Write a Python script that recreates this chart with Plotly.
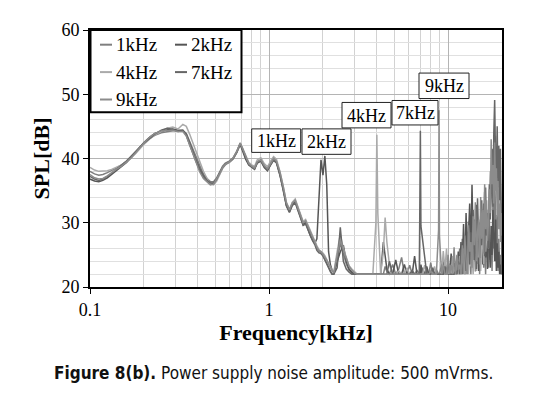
import plotly.graph_objects as go

freq_khz = [
    0.100, 0.106, 0.112, 0.118, 0.125, 0.132, 0.140, 0.150, 0.160, 0.170,
    0.180, 0.190, 0.200, 0.215, 0.230, 0.250, 0.270, 0.290, 0.310, 0.330,
    0.345, 0.360, 0.375, 0.390, 0.410, 0.430, 0.450, 0.470, 0.490, 0.510,
    0.530, 0.550, 0.570, 0.600, 0.630, 0.660, 0.690, 0.710, 0.740, 0.770,
    0.800, 0.830, 0.860, 0.900, 0.940, 0.980,
    1.02, 1.06, 1.10, 1.15, 1.20, 1.25, 1.30, 1.35, 1.40, 1.45,
    1.50, 1.55, 1.60, 1.65, 1.70, 1.75, 1.80, 1.85, 1.90, 1.95,
    2.00, 2.05, 2.10, 2.15, 2.20, 2.25, 2.30, 2.40, 2.50, 2.60,
    2.70, 2.80, 2.90, 3.00, 3.10,
    3.2, 3.4, 3.6, 3.8, 3.95, 4.0, 4.05, 4.2, 4.35, 4.45,
    4.55, 4.7, 4.9, 5.1, 5.3, 5.5, 5.7, 5.9, 6.1, 6.3,
    6.5, 6.7, 6.9, 6.95, 7.0, 7.05, 7.2, 7.4, 7.6, 7.8,
    8.0, 8.2, 8.4, 8.6, 8.85, 8.9, 8.95, 9.2, 9.4, 9.6,
    9.8, 10.0, 10.2, 10.4, 10.6, 10.8,
    11.0, 11.2, 11.4, 11.6, 11.8, 12.0, 12.2, 12.4, 12.6, 12.8,
    13.0, 13.2, 13.4, 13.6, 13.8, 14.0, 14.2, 14.4, 14.6, 14.8,
    15.0, 15.2, 15.4, 15.6, 15.8, 16.0, 16.2, 16.4, 16.6, 16.8,
    17.0, 17.2, 17.4, 17.6, 17.8, 18.0, 18.2, 18.4, 18.6, 18.8,
    19.0, 19.2, 19.4, 19.6, 19.8, 20.0,
]

spl_1k = [
    38.0, 37.6, 37.4, 37.5, 37.8, 38.1, 38.5, 39.0, 39.6, 40.4,
    41.1, 41.8, 42.4, 43.1, 43.6, 44.0, 44.2, 44.3, 44.3, 44.4,
    43.9, 42.7, 41.4, 40.2, 38.8, 37.6, 36.9, 36.4, 36.4, 37.0,
    37.9, 38.8, 39.3, 39.6, 40.1, 41.1, 42.4, 41.5, 40.1, 39.2,
    38.8, 38.5, 39.5, 39.8, 38.8, 38.3,
    39.3, 40.1, 39.5, 37.6, 35.3, 32.8, 31.8, 33.1, 33.5, 32.3,
    31.1, 30.0, 30.3, 29.3, 28.4, 27.7, 27.1, 26.1, 25.6, 25.3,
    24.8, 24.2, 23.6, 23.0, 22.5, 22.0, 22.0, 24.0, 26.8, 25.2,
    23.6, 22.6, 22.2, 22.0, 22.0,
    22, 22, 22, 22, 22, 22, 22, 22, 22, 23.2,
    22.4, 22, 23.5, 22, 22.8, 24.6, 22, 22, 23.4, 22,
    22, 22.6, 22, 22, 22, 22, 23, 22, 22.5, 22,
    23.8, 22, 22, 22.7, 22, 22, 22, 23.5, 22, 24.2,
    22, 22.8, 23.6, 22, 24.5, 23.0,
    22, 24.5, 22, 26.0, 22.5, 27.5, 23, 25.8, 22, 28.6,
    23.5, 26.2, 22, 29.5, 24, 27.8, 22.4, 30.2, 23.6, 26.5,
    22, 28.4, 24.8, 31.0, 23, 27.2, 22, 29.6, 25.4, 23,
    30.8, 24.2, 27.0, 22.5, 33.5, 26.0, 38.0, 29.5, 24.0, 31.2,
    22.5, 27.5, 23, 25.0, 22, 24.0,
]

spl_2k = [
    36.8, 36.5, 36.4, 36.6, 37.0, 37.5, 38.1, 38.7, 39.4, 40.2,
    41.0, 41.8, 42.5, 43.3, 43.9, 44.2, 44.5, 44.6, 44.4, 44.4,
    43.6, 42.2, 40.8, 39.6, 38.2, 37.1, 36.5, 36.1, 36.2, 36.8,
    37.6, 38.5, 39.1, 39.4, 39.9, 40.9, 42.2, 41.3, 39.9, 39.0,
    38.6, 38.3, 39.3, 39.6, 38.6, 38.1,
    39.0, 39.8, 39.4, 37.5, 35.2, 32.7, 31.7, 32.9, 33.3, 32.0,
    30.8, 29.7, 30.0, 28.9, 28.0, 27.3, 26.8, 27.5, 33.0, 39.8,
    37.4, 40.4, 36.0, 25.5, 23.5, 22.6, 22.2, 23.8, 25.5, 26.5,
    24.0, 22.8, 22.3, 22.0, 22.0,
    22, 22, 22, 22, 22, 22, 22, 22, 27.0, 24.5,
    22.8, 22, 22, 24.2, 22, 22, 23.5, 22, 22, 22,
    24.8, 22, 22, 22, 22, 23.5, 22, 22, 23.2, 22,
    22, 22.6, 22, 22, 22, 22, 22, 22, 24.0, 22,
    23.0, 22, 22, 25.2, 22, 23.8,
    23.0, 22, 25.5, 22, 27.0, 23.5, 29.8, 22, 31.5, 24.5,
    28.0, 33.0, 25.5, 35.9, 27.0, 30.5, 24.0, 32.8, 26.5, 22.5,
    30.0, 25.0, 33.5, 23.5, 28.2, 34.8, 24.6, 29.0, 22.8, 31.6,
    26.2, 23.0, 29.5, 25.0, 32.0, 27.5, 24.0, 30.5, 22.5, 26.8,
    23.0, 25.5, 22, 23.5, 22, 22.5,
]

spl_4k = [
    38.6, 38.2, 38.0, 38.0, 38.1, 38.3, 38.6, 39.0, 39.5, 40.1,
    40.8, 41.5, 42.2, 43.0, 43.7, 44.2, 44.7, 44.9, 44.6, 45.3,
    45.0, 43.8, 42.4, 41.0, 39.4, 38.0, 36.9, 36.1, 35.9, 36.5,
    37.5, 38.5, 39.0, 39.4, 39.9, 41.0, 42.3, 41.7, 40.4, 39.4,
    39.0, 38.8, 39.8, 40.1, 39.2, 38.7,
    39.6, 40.3, 39.9, 38.0, 35.7, 33.2, 32.1, 33.2, 33.7, 32.5,
    31.3, 30.2, 30.5, 29.6, 28.7, 28.0, 27.3, 26.4, 25.8, 25.6,
    25.3, 24.9, 24.4, 23.7, 23.1, 22.6, 22.3, 25.5, 28.2, 26.0,
    24.5, 23.3, 22.8, 22.4, 22.0,
    22, 22, 22, 22, 30.0, 43.7, 31.5, 22, 25.5, 30.8,
    27.0, 23.5, 22, 22, 22.5, 22, 22, 23.0, 22, 22,
    22, 22, 22, 22, 22, 22, 22, 23.4, 22, 22,
    22, 22, 23.2, 22, 22, 22, 22, 22, 25.6, 22.8,
    26.0, 22, 23.5, 22, 24.8, 22,
    22, 23.5, 22, 24.8, 22, 22.6, 26.0, 22, 25.2, 23.0,
    22, 27.5, 23.2, 25.0, 22, 28.8, 24.0, 22.5, 27.0, 24.6,
    29.5, 22.5, 26.2, 28.0, 23.6, 30.5, 25.5, 27.6, 32.0, 26.0,
    34.5, 38.0, 36.0, 40.5, 37.5, 42.0, 39.5, 43.5, 36.5, 41.0,
    34.0, 38.5, 32.5, 36.0, 30.0, 33.0,
]

spl_7k = [
    37.2, 36.8, 36.6, 36.8, 37.2, 37.7, 38.3, 38.9, 39.6, 40.3,
    41.0, 41.7, 42.4, 43.1, 43.8, 44.4, 44.7, 44.5, 44.2, 44.3,
    43.8, 42.5, 41.1, 39.9, 38.5, 37.4, 36.6, 36.2, 36.1, 36.8,
    37.8, 38.6, 39.1, 39.5, 40.0, 41.0, 42.3, 41.5, 40.1, 39.1,
    38.7, 38.4, 39.4, 39.7, 38.8, 38.2,
    39.0, 39.7, 39.3, 37.4, 35.0, 32.6, 31.6, 32.7, 33.1, 31.9,
    30.7, 29.6, 29.8, 28.8, 27.9, 27.2, 26.6, 25.7, 25.3, 25.2,
    24.9, 24.3, 23.8, 23.0, 22.4, 22.0, 22.0, 23.0, 29.3, 24.0,
    22.8, 22.3, 22.0, 22.0, 22.0,
    22, 22, 22, 22, 22, 22, 22, 22, 22, 22,
    22, 24.0, 22, 22, 22, 22, 22, 22, 22, 22.6,
    22, 22, 22, 32.0, 44.3, 29.5, 27.2, 24.5, 22, 22,
    22, 23.0, 22, 22, 22, 22, 22, 22, 22, 23.2,
    22, 24.0, 22, 22, 22, 22,
    22.5, 22, 24.0, 22, 25.8, 22, 24.2, 27.6, 22.5, 26.0,
    30.2, 23.5, 28.5, 25.0, 32.0, 24.2, 29.0, 22.8, 33.8, 27.5,
    24.5, 31.0, 26.5, 29.5, 33.0, 24.8, 35.5, 28.0, 31.5, 26.0,
    36.0, 30.5, 34.0, 41.5, 32.5, 44.0, 49.1, 40.0, 37.0, 45.0,
    35.5, 42.0, 33.5, 41.5, 30.5, 22,
]

spl_9k = [
    37.5, 37.0, 36.8, 36.9, 37.3, 37.8, 38.3, 38.8, 39.4, 40.1,
    40.9, 41.7, 42.4, 43.3, 43.9, 44.3, 44.4, 44.4, 44.2, 44.2,
    43.5, 42.1, 40.6, 39.3, 37.9, 36.9, 36.3, 35.9, 36.0, 36.8,
    37.7, 38.6, 39.1, 39.5, 40.1, 41.1, 42.4, 41.6, 40.2, 39.2,
    38.8, 38.5, 39.5, 39.8, 38.9, 38.4,
    39.2, 40.0, 39.6, 37.9, 35.6, 33.1, 32.0, 33.1, 33.5, 32.3,
    31.1, 30.0, 30.3, 29.4, 28.5, 27.8, 27.1, 26.2, 25.7, 25.5,
    25.1, 24.7, 24.2, 23.6, 23.0, 22.6, 22.2, 24.6, 27.4, 25.8,
    24.4, 23.2, 22.6, 22.2, 22.0,
    22, 22, 22, 22, 22, 22, 22, 22, 22, 22,
    22, 22, 22, 22, 22, 22, 22, 22, 22, 22,
    22, 22, 22, 22, 22, 22, 22, 22, 22, 22,
    22.5, 22, 22, 22, 29.0, 47.5, 28.0, 22, 23.5, 22,
    22, 25.0, 22, 23.4, 22, 26.2,
    22, 25.0, 22.6, 23.5, 22, 26.5, 22, 28.0, 24.2, 22,
    29.6, 25.5, 27.0, 23.0, 31.0, 26.5, 33.2, 24.0, 28.5, 30.5,
    23.5, 34.0, 27.5, 32.0, 25.2, 36.0, 29.0, 33.5, 27.2, 30.0,
    35.2, 31.5, 43.0, 36.0, 39.0, 33.0, 42.5, 35.0, 38.5, 31.0,
    36.5, 29.0, 33.0, 27.0, 31.5, 28.0,
]

series_names = ["1kHz", "2kHz", "4kHz", "7kHz", "9kHz"]
series_values = [spl_1k, spl_2k, spl_4k, spl_7k, spl_9k]
series_colors = ["#7f7f7f", "#555555", "#aaaaaa", "#666666", "#8c8c8c"]

x_tick_vals = [0.1, 1, 10]
x_tick_text = ["0.1", "1", "10"]
x_minor_vals = [0.2, 0.3, 0.4, 0.5, 0.6, 0.7, 0.8, 0.9,
                2, 3, 4, 5, 6, 7, 8, 9, 20]
y_tick_vals = [20, 30, 40, 50, 60]

peak_labels = ["1kHz", "2kHz", "4kHz", "7kHz", "9kHz"]

SERIF = "Liberation Serif, Times New Roman, serif"

fig = go.Figure()
for name, vals, col in zip(series_names, series_values, series_colors):
    fig.add_trace(go.Scatter(x=freq_khz, y=vals, mode="lines", name=name,
                             line=dict(color=col, width=1.5), showlegend=False))

# page body has an 8px margin: window coords = figure coords + 8
OFF = 8
FIG_W, FIG_H = 547 - OFF, 398 - OFF
# plot area in window px: x 90..502, y 25..287.5
L, R, T, B = 90, 502, 25, 287.5
W, H = R - L, B - T


def px(xp):
    return (xp - L) / W


def py(yp):
    return (B - yp) / H


# peak label boxes (rect shape + text)
label_boxes = [(251.7, 300.7, 126, 150), (302, 351, 126, 152),
               (342, 391, 99, 125), (392, 438, 97, 122), (419, 469, 69, 95)]
for txt, (x0, x1, y0, y1) in zip(peak_labels, label_boxes):
    fig.add_shape(type="rect", xref="paper", yref="paper",
                  x0=px(x0), x1=px(x1), y0=py(y1), y1=py(y0),
                  line=dict(color="#222222", width=1), fillcolor="white",
                  layer="above")
    fig.add_annotation(x=px((x0 + x1) / 2), y=py((y0 + y1) / 2 + 0.5),
                       xref="paper", yref="paper", xanchor="center",
                       yanchor="middle", text=txt, showarrow=False,
                       font=dict(family=SERIF, size=18, color="black"))

# legend box
fig.add_shape(type="rect", xref="paper", yref="paper",
              x0=px(90.5), x1=px(241.5), y0=py(109), y1=py(25),
              line=dict(color="black", width=2), fillcolor="white",
              layer="above")
leg_pos = [(100, 40), (175, 40), (100, 68), (175, 68), (100, 96)]
for name, col, (lx, ly) in zip(series_names, series_colors, leg_pos):
    fig.add_shape(type="line", xref="paper", yref="paper",
                  x0=px(lx), x1=px(lx + 12), y0=py(ly), y1=py(ly),
                  line=dict(color=col, width=2), layer="above")
    fig.add_annotation(x=px(lx + 13.5), y=py(ly), xref="paper", yref="paper",
                       xanchor="left", yanchor="middle", showarrow=False,
                       text=name,
                       font=dict(family=SERIF, size=19, color="black"))

# caption
fig.add_annotation(x=px(273), y=py(375), xref="paper", yref="paper",
                   xanchor="center", yanchor="middle", showarrow=False,
                   text="<b>Figure 8(b).</b> Power supply noise amplitude: 500 mVrms.",
                   font=dict(family="DejaVu Sans Condensed, Liberation Sans Narrow, sans-serif",
                             size=17, color="#111111"))

fig.update_xaxes(type="log", range=[-1, 1.30103],
                 tickvals=x_tick_vals, ticktext=x_tick_text,
                 ticks="outside", ticklen=5, tickcolor="black",
                 showline=True, mirror=True, linecolor="black", linewidth=2,
                 showgrid=True, gridcolor="#b4b4b4", gridwidth=1,
                 minor=dict(tickvals=x_minor_vals, showgrid=True,
                            gridcolor="#d2d2d2", gridwidth=1, ticks=""),
                 tickfont=dict(family=SERIF, size=18, color="black"),
                 title=dict(text="<b>Frequency[kHz]</b>", standoff=2,
                            font=dict(family=SERIF, size=22, color="black")),
                 zeroline=False)
fig.update_yaxes(range=[20, 60], tickvals=y_tick_vals,
                 ticks="outside", ticklen=5, tickcolor="black",
                 showline=True, mirror=True, linecolor="black", linewidth=2,
                 showgrid=True, gridcolor="#b4b4b4", gridwidth=1,
                 minor=dict(dtick=2, showgrid=True, gridcolor="#e0e0e0",
                            gridwidth=1, ticks=""),
                 tickfont=dict(family=SERIF, size=18, color="black"),
                 title=dict(text="<b>SPL[dB]</b>", standoff=6,
                            font=dict(family=SERIF, size=22, color="black")),
                 zeroline=False)

fig.update_layout(width=FIG_W, height=FIG_H,
                  margin=dict(l=L - OFF, r=FIG_W - (R - OFF),
                              t=T - OFF, b=FIG_H - (B - OFF)),
                  plot_bgcolor="white", paper_bgcolor="white",
                  showlegend=False)

fig.write_html("out.html")
